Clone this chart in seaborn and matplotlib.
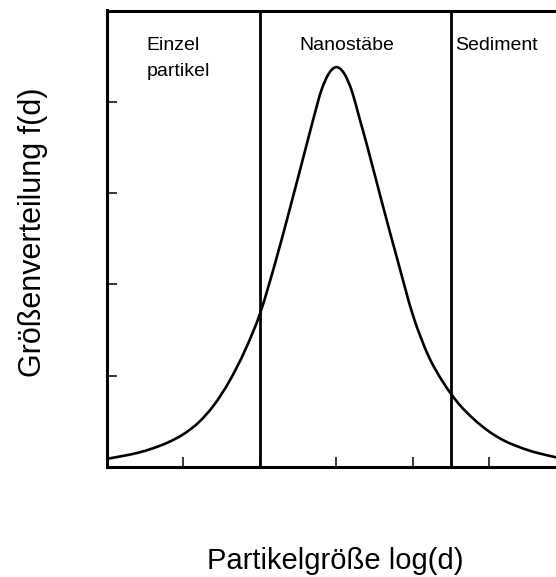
import matplotlib
matplotlib.use("Agg")
import matplotlib.pyplot as plt
from matplotlib.path import Path
from matplotlib.patches import PathPatch
import seaborn as sns
import pandas as pd
import numpy as np

# Size distribution curve f(d) over log(d)
log_d = [0.0, 0.2, 0.4, 0.6, 0.8, 1.0, 1.2, 1.4, 1.6, 1.8, 2.0, 2.2, 2.4,
         2.6, 2.7, 2.8, 2.9, 3.0, 3.1, 3.2, 3.3, 3.4, 3.6, 3.8, 4.0, 4.2,
         4.4, 4.6, 4.8, 5.0, 5.2, 5.4, 5.6, 5.87]
f_d = [0.09, 0.12, 0.155, 0.205, 0.27, 0.36, 0.49, 0.68, 0.94, 1.27, 1.68,
       2.24, 2.86, 3.50, 3.82, 4.12, 4.31, 4.38, 4.31, 4.12, 3.82, 3.52,
       2.88, 2.26, 1.66, 1.22, 0.92, 0.69, 0.52, 0.385, 0.285, 0.215, 0.16,
       0.106]

# Region boundaries and labels
boundaries = [2.0, 4.5]
region_labels = ["Einzel", "Nanostäbe", "Sediment"]
region_x = [0.52, 2.51, 4.55]
second_line = "partikel"

x_ticks = [1, 2, 3, 4, 5]
y_ticks = [1, 2, 3, 4]

sns.set_theme(style="ticks")
plt.rcParams["font.family"] = ["Liberation Sans", "DejaVu Sans"]
plt.rcParams["text.color"] = "black"

df = pd.DataFrame({"log_d": log_d, "f_d": f_d})

fig = plt.figure(figsize=(5.56, 5.77), dpi=100)
ax = fig.add_axes([107 / 556, 110 / 577, 459 / 556, 456.5 / 577])

sns.lineplot(data=df, x="log_d", y="f_d", ax=ax, color="black", linewidth=1.9)

# render the curve as a smooth Catmull-Rom spline through its points
line = ax.lines[0]
pts = np.column_stack(line.get_data())
line.set_visible(False)
verts = [pts[0]]
codes = [Path.MOVETO]
for i in range(len(pts) - 1):
    p0 = pts[i - 1] if i > 0 else pts[i]
    p1, p2 = pts[i], pts[i + 1]
    p3 = pts[i + 2] if i + 2 < len(pts) else pts[i + 1]
    c1 = p1 + (p2 - p0) / 6.0
    c2 = p2 - (p3 - p1) / 6.0
    verts += [c1, c2, p2]
    codes += [Path.CURVE4] * 3
ax.add_patch(PathPatch(Path(verts, codes), fill=False, edgecolor="black",
                       linewidth=1.9, capstyle="round", joinstyle="round"))

for b in boundaries:
    ax.axvline(b, color="black", linewidth=2.0)

for lbl, xp in zip(region_labels, region_x):
    ax.text(xp, 4.57, lbl, fontsize=14, ha="left", va="baseline", color="black")
ax.text(region_x[0], 4.285, second_line, fontsize=14, ha="left",
        va="baseline", color="black")

ax.set_xlim(0, 6)
ax.set_ylim(0, 5)
ax.set_xticks(x_ticks)
ax.set_yticks(y_ticks)
ax.set_xticklabels([])
ax.set_yticklabels([])
ax.tick_params(direction="in", length=7, width=1.1, color="black")

for side in ["left", "bottom", "top", "right"]:
    ax.spines[side].set_linewidth(2.2)
    ax.spines[side].set_color("black")

ax.set_xlabel("")
ax.set_ylabel("")
fig.text(335 / 556, 1 - 561 / 577, "Partikelgröße log(d)", fontsize=21,
         ha="center", va="center", color="black")
fig.text(33 / 556, 1 - 232 / 577, "Größenverteilung f(d)", fontsize=22,
         ha="center", va="center", rotation=90, color="black")

fig.savefig("out.png", dpi=100)
